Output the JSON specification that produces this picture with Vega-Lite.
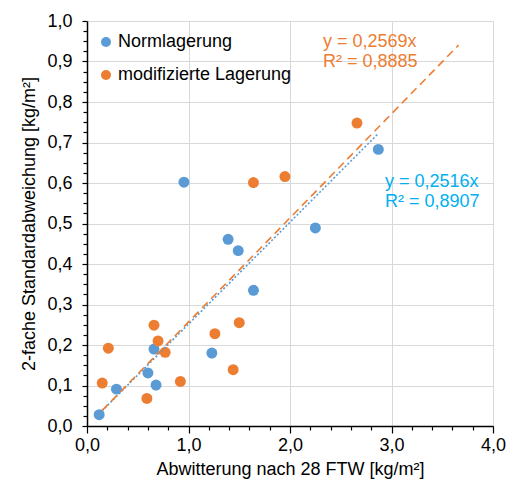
{
  "$schema": "https://vega.github.io/schema/vega-lite/v6.json",
  "autosize": "none",
  "width": 406,
  "height": 405,
  "padding": {"left": 87, "top": 21, "right": 21, "bottom": 57},
  "config": {
    "font": "Liberation Sans",
    "view": {"stroke": null},
    "axis": {
      "labelFont": "Liberation Sans",
      "labelFontSize": 18,
      "labelColor": "#000000",
      "titleFont": "Liberation Sans",
      "titleFontSize": 18,
      "titleFontWeight": "normal",
      "titleColor": "#000000",
      "domainColor": "#000000",
      "domainWidth": 1.5,
      "tickColor": "#000000",
      "tickWidth": 1.2,
      "gridColor": "#D9D9D9",
      "gridWidth": 1
    },
    "legend": {
      "labelFont": "Liberation Sans",
      "labelFontSize": 18,
      "labelColor": "#000000",
      "labelLimit": 400
    }
  },
  "datasets": {
    "pts": [
      {"serie": "Normlagerung", "x": 0.12, "y": 0.028},
      {"serie": "Normlagerung", "x": 0.29, "y": 0.091},
      {"serie": "Normlagerung", "x": 0.68, "y": 0.101},
      {"serie": "Normlagerung", "x": 0.60, "y": 0.131},
      {"serie": "Normlagerung", "x": 0.66, "y": 0.190},
      {"serie": "Normlagerung", "x": 1.23, "y": 0.180},
      {"serie": "Normlagerung", "x": 1.64, "y": 0.335},
      {"serie": "Normlagerung", "x": 1.39, "y": 0.461},
      {"serie": "Normlagerung", "x": 1.49, "y": 0.433},
      {"serie": "Normlagerung", "x": 0.955, "y": 0.602},
      {"serie": "Normlagerung", "x": 2.25, "y": 0.489},
      {"serie": "Normlagerung", "x": 2.87, "y": 0.683},
      {"serie": "modifizierte Lagerung", "x": 0.15, "y": 0.106},
      {"serie": "modifizierte Lagerung", "x": 0.21, "y": 0.192},
      {"serie": "modifizierte Lagerung", "x": 0.59, "y": 0.068},
      {"serie": "modifizierte Lagerung", "x": 0.66, "y": 0.249},
      {"serie": "modifizierte Lagerung", "x": 0.70, "y": 0.210},
      {"serie": "modifizierte Lagerung", "x": 0.77, "y": 0.182},
      {"serie": "modifizierte Lagerung", "x": 0.92, "y": 0.110},
      {"serie": "modifizierte Lagerung", "x": 1.26, "y": 0.228},
      {"serie": "modifizierte Lagerung", "x": 1.44, "y": 0.139},
      {"serie": "modifizierte Lagerung", "x": 1.50, "y": 0.255},
      {"serie": "modifizierte Lagerung", "x": 1.64, "y": 0.601},
      {"serie": "modifizierte Lagerung", "x": 1.95, "y": 0.616},
      {"serie": "modifizierte Lagerung", "x": 2.66, "y": 0.748}
    ],
    "trend": [
      {"serie": "Normlagerung", "x": 0.12, "y": 0.0302},
      {"serie": "Normlagerung", "x": 2.87, "y": 0.7221},
      {"serie": "modifizierte Lagerung", "x": 0.15, "y": 0.0385},
      {"serie": "modifizierte Lagerung", "x": 3.66, "y": 0.9403}
    ],
    "labels": [
      {"serie": "modifizierte Lagerung", "x": 2.325, "y": 0.936, "text": "y = 0,2569x"},
      {"serie": "modifizierte Lagerung", "x": 2.325, "y": 0.886, "text": "R² = 0,8885"},
      {"serie": "Normlagerung", "x": 2.936, "y": 0.590, "text": "y = 0,2516x"},
      {"serie": "Normlagerung", "x": 2.936, "y": 0.541, "text": "R² = 0,8907"}
    ]
  },
  "encoding": {
    "x": {
      "field": "x", "type": "quantitative",
      "scale": {"domain": [0, 4], "nice": false, "zero": false},
      "axis": {
        "title": "Abwitterung nach 28 FTW [kg/m²]",
        "values": [0, 0.2, 0.4, 0.6, 0.8, 1, 1.2, 1.4, 1.6, 1.8, 2, 2.2, 2.4, 2.6, 2.8, 3, 3.2, 3.4, 3.6, 3.8, 4],
        "labelExpr": "abs(round(datum.value*10)) % 10 == 0 ? replace(format(datum.value, '.1f'), '.', ',') : ''",
        "tickSize": {"condition": {"test": "abs(round(datum.value*10)) % 10 == 0", "value": 7}, "value": 4},
        "gridOpacity": {"condition": {"test": "abs(round(datum.value*10)) % 10 == 0", "value": 1}, "value": 0},
        "labelPadding": 3,
        "labelFlush": false,
        "labelOverlap": false,
        "titlePadding": 6
      }
    },
    "y": {
      "field": "y", "type": "quantitative",
      "scale": {"domain": [0, 1], "nice": false},
      "axis": {
        "title": "2-fache Standardabweichung [kg/m²]",
        "values": [0, 0.025, 0.05, 0.075, 0.1, 0.125, 0.15, 0.175, 0.2, 0.225, 0.25, 0.275, 0.3, 0.325, 0.35, 0.375, 0.4, 0.425, 0.45, 0.475, 0.5, 0.525, 0.55, 0.575, 0.6, 0.625, 0.65, 0.675, 0.7, 0.725, 0.75, 0.775, 0.8, 0.825, 0.85, 0.875, 0.9, 0.925, 0.95, 0.975, 1],
        "labelExpr": "round(datum.value*1000) % 100 == 0 ? replace(format(datum.value, '.1f'), '.', ',') : ''",
        "tickSize": {"condition": {"test": "round(datum.value*1000) % 100 == 0", "value": 5}, "value": 4},
        "gridOpacity": {"condition": {"test": "round(datum.value*1000) % 100 == 0", "value": 1}, "value": 0},
        "labelPadding": 10,
        "labelOverlap": false,
        "labelFlush": false,
        "titlePadding": 8
      }
    }
  },
  "layer": [
    {
      "data": {"name": "pts"},
      "mark": {"type": "circle", "size": 120, "opacity": 1},
      "encoding": {
        "color": {
          "field": "serie", "type": "nominal",
          "scale": {"domain": ["Normlagerung", "modifizierte Lagerung"], "range": ["#5B9BD5", "#ED7D31"]},
          "legend": {
            "title": null,
            "orient": "none",
            "legendX": 10,
            "legendY": 12,
            "padding": 0,
            "symbolType": "circle",
            "symbolSize": 100,
            "symbolOpacity": 1,
            "labelOffset": 3,
            "rowPadding": 15
          }
        }
      }
    },
    {
      "data": {"name": "trend"},
      "transform": [{"filter": "datum.serie == 'Normlagerung'"}],
      "mark": {"type": "line", "color": "#5B9BD5", "strokeWidth": 1.6, "strokeDash": [2, 2]},
      "encoding": {}
    },
    {
      "data": {"name": "trend"},
      "transform": [{"filter": "datum.serie == 'modifizierte Lagerung'"}],
      "mark": {"type": "line", "color": "#ED7D31", "strokeWidth": 1.6, "strokeDash": [8, 5]},
      "encoding": {}
    },
    {
      "data": {"name": "labels"},
      "transform": [{"filter": "datum.serie == 'modifizierte Lagerung'"}],
      "mark": {"type": "text", "align": "left", "baseline": "alphabetic", "fontSize": 18, "color": "#ED7D31", "font": "Liberation Sans"},
      "encoding": {"text": {"field": "text"}}
    },
    {
      "data": {"name": "labels"},
      "transform": [{"filter": "datum.serie == 'Normlagerung'"}],
      "mark": {"type": "text", "align": "left", "baseline": "alphabetic", "fontSize": 18, "color": "#00B0F0", "font": "Liberation Sans"},
      "encoding": {"text": {"field": "text"}}
    }
  ]
}
